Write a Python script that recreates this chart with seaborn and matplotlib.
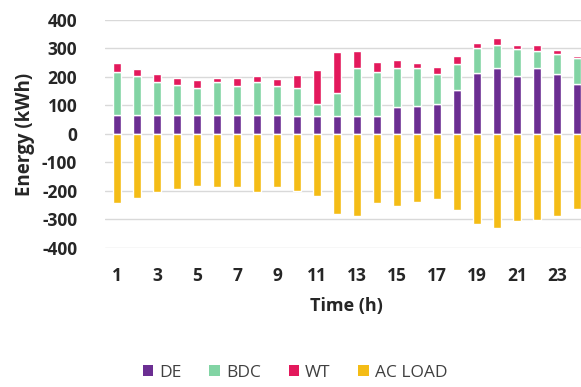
import matplotlib
matplotlib.use("Agg")
import matplotlib.pyplot as plt
from matplotlib.patches import Patch
import seaborn as sns
import pandas as pd
import numpy as np

hours = [str(h) for h in range(1, 25)]
de = [65, 65, 65, 65, 65, 65, 65, 65, 65, 64, 62, 64, 64, 62, 93, 99, 107, 155, 213, 231, 202, 231, 212, 177]
bdc = [153, 137, 116, 106, 95, 116, 102, 116, 102, 99, 43, 79, 169, 154, 140, 132, 103, 90, 87, 80, 95, 61, 68, 89]
wt = [30, 25, 29, 26, 29, 15, 28, 21, 25, 43, 119, 143, 59, 37, 26, 17, 26, 27, 21, 25, 16, 19, 14, 8]
ac_load = [-241, -225, -204, -193, -183, -187, -187, -202, -187, -200, -216, -280, -286, -241, -253, -239, -227, -265, -315, -330, -307, -303, -286, -262]
series_names = ["DE", "BDC", "WT", "AC LOAD"]
colors = ["#6B2E92", "#82D4A4", "#E3195C", "#F4BC16"]
yticks = [400, 300, 200, 100, 0, -100, -200, -300, -400]

df = pd.DataFrame({"hour": hours, "DE": de, "BDC": bdc, "WT": wt, "AC LOAD": ac_load})

sns.set_style("white")
plt.rcParams["font.family"] = ["Open Sans", "DejaVu Sans"]

fig = plt.figure(figsize=(5.81, 3.87), dpi=100)
W, H = 581, 387
ax = fig.add_axes([105 / W, 1 - 248 / H, (587 - 105) / W, (248 - 20) / H])

bottom_bdc = np.array(de)
bottom_wt = np.array(de) + np.array(bdc)
bw = 0.4
sns.barplot(data=df, x="hour", y="DE", color=colors[0], width=bw, ax=ax, saturation=1, zorder=3)
sns.barplot(data=df, x="hour", y="BDC", color=colors[1], width=bw, ax=ax, saturation=1, bottom=bottom_bdc, zorder=3)
sns.barplot(data=df, x="hour", y="WT", color=colors[2], width=bw, ax=ax, saturation=1, bottom=bottom_wt, zorder=3)
sns.barplot(data=df, x="hour", y="AC LOAD", color=colors[3], width=bw, ax=ax, saturation=1, zorder=3)

ax.set_ylim(-400, 400)
ax.set_xlim(-0.6, 23.5)
ax.set_yticks(yticks)
ax.set_yticklabels([str(v) for v in yticks], fontsize=12.5, fontweight="bold")
ax.set_xticks(range(0, 24, 2))
ax.set_xticklabels(hours[::2], fontsize=12.5, fontweight="bold")
ax.tick_params(axis="y", length=0, pad=20)
ax.tick_params(axis="x", length=0, pad=14)
ax.yaxis.grid(True, color="#d9d9d9", linewidth=1.0, zorder=0)
ax.xaxis.grid(False)
for s in ax.spines.values():
    s.set_visible(False)
ax.set_ylabel("Energy (kWh)", fontsize=13.5, fontweight="bold", labelpad=5)
ax.set_xlabel("Time (h)", fontsize=13, fontweight="bold", labelpad=8)

handles = [Patch(facecolor=c, edgecolor="none", label=n) for c, n in zip(colors, series_names)]
fig.legend(handles=handles, loc="center", bbox_to_anchor=(295 / W, 1 - 373 / H), ncol=4, frameon=False,
           fontsize=12.5, handlelength=0.6, handleheight=0.6, handletextpad=0.35, columnspacing=1.6,
           labelcolor="#404040")

fig.savefig("out.png", dpi=100)
